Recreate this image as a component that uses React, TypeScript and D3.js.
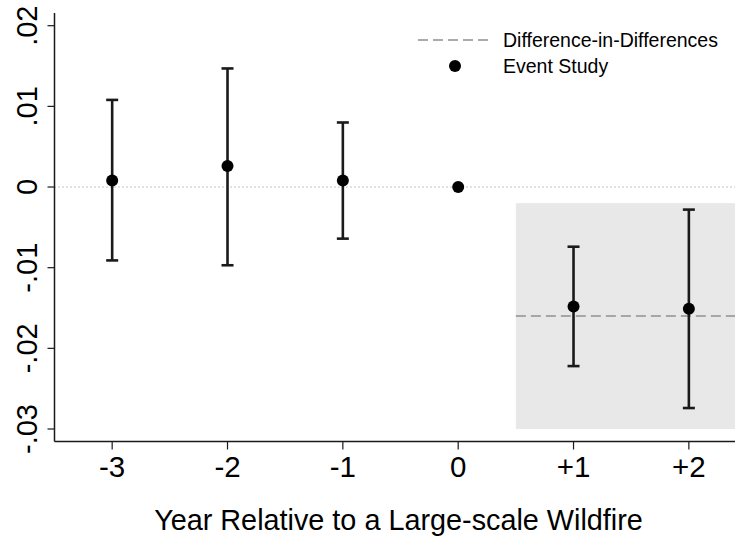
import React from "react";
import * as d3 from "d3";

const periods = [-3, -2, -1, 0, 1, 2];
const periodLabels = ["-3", "-2", "-1", "0", "+1", "+2"];
const estimates = [0.0008, 0.0026, 0.0008, 0, -0.0148, -0.0151];
const ciLow = [-0.0091, -0.0097, -0.0064, 0, -0.0222, -0.0274];
const ciHigh = [0.0108, 0.0147, 0.008, 0, -0.0074, -0.0028];
const hasCI = [true, true, true, false, true, true];
const didEstimate = -0.016;
const postWindow = [0.5, 2.4];
const shadeRange = [-0.03, -0.002];
const yTicks = [0.02, 0.01, 0, -0.01, -0.02, -0.03];
const yTickLabels = [".02", ".01", "0", "-.01", "-.02", "-.03"];
const legendLabels = ["Difference-in-Differences", "Event Study"];
const xTitle = "Year Relative to a Large-scale Wildfire";

const W = 735;
const H = 537;
const FONT = "'Liberation Sans', Arial, Helvetica, sans-serif";

export default function App() {
  const x = d3.scaleLinear().domain([-3.5, 2.4]).range([54.5, 735]);
  const y = d3.scaleLinear().domain([-0.03, 0.02]).range([429, 25.7]);
  const axisY = 441.5;
  const axisX = 54.5;
  const dark = "#1a1a1a";

  return (
    <svg
      width={W}
      height={H}
      style={{ position: "absolute", left: 0, top: 0, background: "#fff" }}
      fontFamily={FONT}
    >
      <rect x={0} y={0} width={W} height={H} fill="#fff" />
      {/* shaded post-period */}
      <rect
        x={x(postWindow[0])}
        y={y(shadeRange[1])}
        width={x(postWindow[1]) - x(postWindow[0])}
        height={y(shadeRange[0]) - y(shadeRange[1])}
        fill="#e8e8e8"
      />
      {/* zero line */}
      <line
        x1={axisX}
        x2={W}
        y1={y(0)}
        y2={y(0)}
        stroke="#8a8a8a"
        strokeWidth={1}
        strokeDasharray="1 3"
      />
      {/* DiD line */}
      <line
        x1={x(postWindow[0])}
        x2={x(postWindow[1])}
        y1={y(didEstimate)}
        y2={y(didEstimate)}
        stroke="#909090"
        strokeWidth={1.5}
        strokeDasharray="10 5"
      />
      {/* error bars */}
      {periods.map((p, i) =>
        hasCI[i] ? (
          <g key={"ci" + i} stroke={dark} strokeWidth={2.6}>
            <line x1={x(p)} x2={x(p)} y1={y(ciLow[i])} y2={y(ciHigh[i])} />
            <line x1={x(p) - 6} x2={x(p) + 6} y1={y(ciLow[i])} y2={y(ciLow[i])} />
            <line x1={x(p) - 6} x2={x(p) + 6} y1={y(ciHigh[i])} y2={y(ciHigh[i])} />
          </g>
        ) : null
      )}
      {/* points */}
      {periods.map((p, i) => (
        <circle key={"pt" + i} cx={x(p)} cy={y(estimates[i])} r={6} fill="#000" />
      ))}
      {/* axes */}
      <line x1={axisX} x2={axisX} y1={13} y2={axisY} stroke={dark} strokeWidth={1.5} />
      <line x1={axisX} x2={W} y1={axisY} y2={axisY} stroke={dark} strokeWidth={1.5} />
      {yTicks.map((t, i) => (
        <g key={"yt" + i}>
          <line x1={axisX - 7} x2={axisX} y1={y(t)} y2={y(t)} stroke={dark} strokeWidth={1.2} />
          <text
            transform={`translate(37,${y(t)}) rotate(-90)`}
            textAnchor="middle"
            fontSize={29}
            fill="#000"
          >
            {yTickLabels[i]}
          </text>
        </g>
      ))}
      {periods.map((p, i) => (
        <g key={"xt" + i}>
          <line x1={x(p)} x2={x(p)} y1={axisY} y2={axisY + 8} stroke={dark} strokeWidth={1.2} />
          <text x={x(p)} y={477} textAnchor="middle" fontSize={29.5} fill="#000">
            {periodLabels[i]}
          </text>
        </g>
      ))}
      <text x={(153 + 644) / 2} y={530} textAnchor="middle" fontSize={28.8} fill="#000">
        {xTitle}
      </text>
      {/* legend */}
      <line x1={418} x2={490} y1={40} y2={40} stroke="#909090" strokeWidth={1.5} strokeDasharray="10 5" />
      <text x={503} y={47} fontSize={19.5} fill="#000">
        {legendLabels[0]}
      </text>
      <circle cx={455} cy={66} r={6} fill="#000" />
      <text x={503} y={73} fontSize={19.5} fill="#000">
        {legendLabels[1]}
      </text>
    </svg>
  );
}
